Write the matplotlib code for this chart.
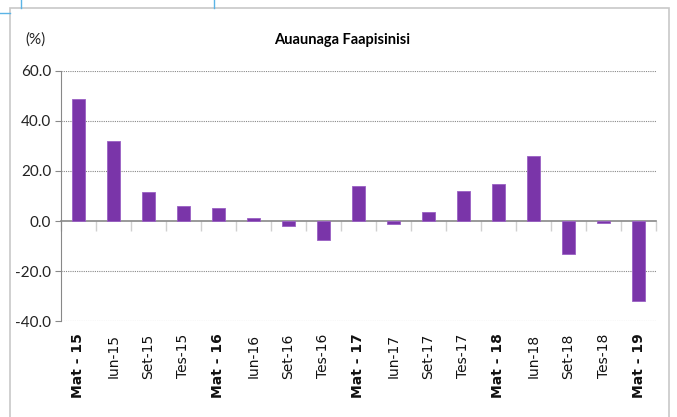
import matplotlib.pyplot as plt
from matplotlib.patches import Rectangle
from matplotlib.lines import Line2D

# Quarterly change (%)
periods = ['Mat - 15', 'Iun-15', 'Set-15', 'Tes-15', 'Mat - 16', 'Iun-16', 'Set-16', 'Tes-16',
           'Mat - 17', 'Iun-17', 'Set-17', 'Tes-17', 'Mat - 18', 'Iun-18', 'Set-18', 'Tes-18',
           'Mat - 19']
values = [48.8, 32.0, 11.6, 6.1, 5.2, 1.2, -2.0, -7.7,
          14.0, -1.3, 3.7, 11.9, 14.8, 26.0, -13.2, -0.6,
          -31.9]
yticks = [-40, -20, 0, 20, 40, 60]

narrow = 'Lato'

fig = plt.figure(figsize=(6.77, 4.17), dpi=100)
ax = fig.add_axes([0.090, 0.230, 0.879, 0.600])

x = list(range(len(periods)))
ax.bar(x, values, width=0.39, color='#7a35a9', edgecolor='#9a60c4', linewidth=0.6, zorder=3)

ax.set_xlim(-0.5, len(periods) - 0.5)
ax.set_ylim(-40, 60)
ax.set_yticks(yticks)
ax.set_yticklabels([f'{v:.1f}' for v in yticks], fontsize=11, family=narrow, color='#222222')
for v in yticks:
    if v != 0:
        ax.axhline(v, color='#888888', linestyle=(0, (1, 1)), linewidth=0.8, zorder=1)

ax.set_xticks(x)
ax.set_xticklabels(periods, rotation=90, fontsize=10, family='DejaVu Sans', color='#111111')
for lbl, p in zip(ax.get_xticklabels(), periods):
    if p.startswith('Mat'):
        lbl.set_fontweight('bold')
ax.tick_params(axis='x', length=0, pad=9)
ax.tick_params(axis='y', length=4, color='#888888', pad=3)

for s in ['top', 'right', 'bottom']:
    ax.spines[s].set_visible(False)
ax.spines['left'].set_color('#888888')

# zero line with category separators
sec = ax.secondary_xaxis(0.4)
sec.set_xticks([i + 0.5 for i in range(-1, len(periods))])
sec.set_xticklabels([])
sec.tick_params(length=7, color='#d0d0d0', width=1)
sec.spines['bottom'].set_color('#888888')
sec.spines['bottom'].set_linewidth(1.2)

fig.text(0.505, 0.905, 'Auaunaga Faapisinisi', ha='center', va='center',
         fontsize=10.5, fontweight='bold', family=narrow)
fig.text(0.052, 0.905, '(%)', ha='center', va='center', fontsize=11, family=narrow, color='#222222')

fig.patches.append(Rectangle((0.015, -0.01), 0.973, 0.99, transform=fig.transFigure,
                             fill=False, edgecolor='#c8c8c8', linewidth=1.2))
fig.lines.append(Line2D([0.031, 0.031], [0.98, 1.0], transform=fig.transFigure, color='#5ab4e6', lw=1))
fig.lines.append(Line2D([0.316, 0.316], [0.98, 1.0], transform=fig.transFigure, color='#5ab4e6', lw=1))
fig.lines.append(Line2D([0.0, 0.015], [0.969, 0.969], transform=fig.transFigure, color='#5ab4e6', lw=1))

plt.savefig('out.png', dpi=100)
